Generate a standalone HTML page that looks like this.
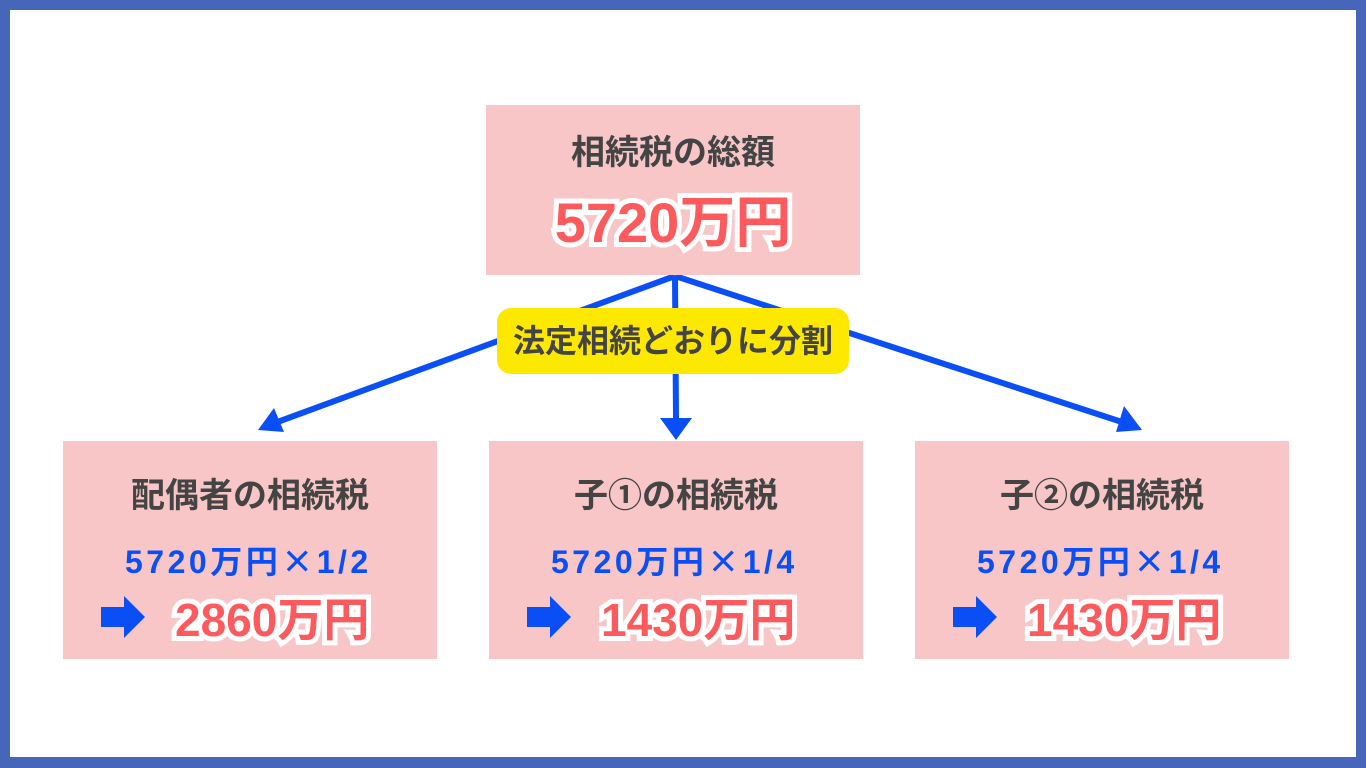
<!DOCTYPE html>
<html><head><meta charset="utf-8"><style>
*{margin:0;padding:0;box-sizing:border-box}
body{width:1366px;height:768px;background:#4766ba;position:relative;overflow:hidden;font-family:"Liberation Sans","Noto Sans CJK JP",sans-serif;font-weight:bold}
.in{position:absolute;left:10px;top:10px;width:1346px;height:747px;background:#fff}
.box{position:absolute;background:#f8c6c7}
.t{position:absolute;left:0;width:100%;text-align:center;color:#444;font-size:34px;line-height:1}
.b{position:absolute;color:#0a4ff5;font-size:32px;line-height:1;white-space:nowrap;letter-spacing:3.5px}
.b i{font-style:normal;font-family:"Noto Sans CJK JP",sans-serif}
.r{position:absolute;color:#fd5a5d;line-height:1;white-space:nowrap}
.r span{-webkit-text-stroke:10px #fff;paint-order:stroke fill}
.lab{position:absolute;left:497px;top:308px;width:352px;height:66px;background:#fde900;border-radius:14px;text-align:center;font-size:32px;line-height:66px;color:#444}
svg{position:absolute;left:0;top:0;z-index:5}
</style></head><body>
<div class="in"></div>
<svg width="1366" height="768" style="z-index:0">
<g stroke="#0a4ff5" stroke-width="6" fill="none">
<line x1="675" y1="276" x2="272" y2="424"/>
<line x1="675" y1="276" x2="676" y2="418"/>
<line x1="675" y1="276" x2="1128" y2="424"/>
</g>
<g fill="#0a4ff5">
<polygon points="258,430 274,408 284,432"/>
<polygon points="660,418 692,418 676,440"/>
<polygon points="1142,430 1124,406 1116,432"/>
</g>
</svg>
<div class="box" style="left:486px;top:105px;width:374px;height:170px">
<div class="t" style="top:31px">相続税の総額</div>
<div class="r" style="left:0;width:100%;text-align:center;top:90px;font-size:56px"><span>5720万円</span></div>
</div>
<div class="lab">法定相続どおりに分割</div>

<div class="box" style="left:63px;top:441px;width:374px;height:218px">
<div class="t" style="top:38px">配偶者の相続税</div>
<div class="b" style="left:62px;top:103px">5720万円<i>×</i>1/2</div>
<div class="r" style="left:112px;top:156px;font-size:46px"><span>2860万円</span></div>
</div>
<div class="box" style="left:489px;top:441px;width:374px;height:218px">
<div class="t" style="top:38px">子①の相続税</div>
<div class="b" style="left:62px;top:103px">5720万円<i>×</i>1/4</div>
<div class="r" style="left:112px;top:156px;font-size:46px"><span>1430万円</span></div>
</div>
<div class="box" style="left:915px;top:441px;width:374px;height:218px">
<div class="t" style="top:38px">子②の相続税</div>
<div class="b" style="left:62px;top:103px">5720万円<i>×</i>1/4</div>
<div class="r" style="left:112px;top:156px;font-size:46px"><span>1430万円</span></div>
</div>
<svg width="1366" height="768">
<g fill="#0a4ff5">
<polygon points="101,607 124,607 124,596 145,617 124,638 124,627 101,627"/>
<polygon points="527,607 550,607 550,596 571,617 550,638 550,627 527,627"/>
<polygon points="953,607 976,607 976,596 997,617 976,638 976,627 953,627"/>
</g>
</svg>
</body></html>
